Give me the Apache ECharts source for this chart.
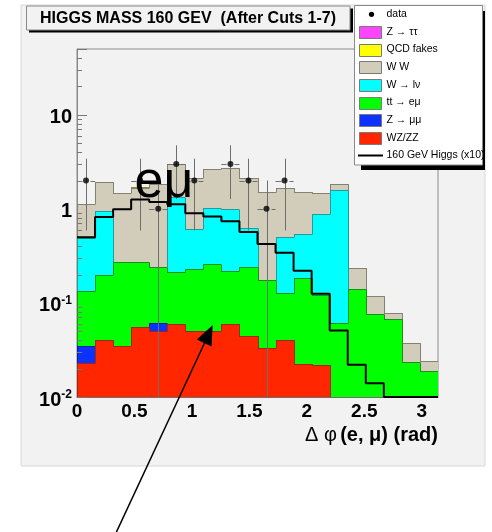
<!DOCTYPE html>
<html><head><meta charset="utf-8">
<script src="https://cdn.jsdelivr.net/npm/echarts@6/dist/echarts.min.js"></script>
<style>html,body{margin:0;padding:0;background:#fff}#c{width:492px;height:532px}</style>
</head><body><div id="c"></div>
<script>
// ---- data ----
const xRange = [0, Math.PI];
const nBins = 20;
const yRange = [0.01, 50];
const yMajorTicks = [0.01, 0.1, 1, 10];
const yMinorTicks = [0.02,0.03,0.04,0.05,0.06,0.07,0.08,0.09,0.2,0.3,0.4,0.5,0.6,0.7,0.8,0.9,2,3,4,5,6,7,8,9,20,30,40,50];
const xTickLabels = [0, 0.5, 1, 1.5, 2, 2.5, 3];

const wzzz    = [0.0229,0.0399,0.0352,0.0555,0.0498,0.0597,0.0500,0.0498,0.0597,0.0448,0.0331,0.0399,0.0223,0.0220,0,0,0,0,0,0];
const zmumu   = [0.0121,0,0,0,0.0114,0,0,0,0,0,0,0,0,0,0,0,0,0,0,0];
const ttbar   = [0.100,0.157,0.236,0.220,0.181,0.154,0.181,0.211,0.161,0.197,0.143,0.088,0.163,0.098,0.0612,0.142,0.0764,0.068,0.0238,0.0191];
const wlnu    = [0.359,0.754,0,0,0,1.13,0.38,0.77,0.77,0.38,0,0.37,0.35,0.77,1.53,0,0,0,0,0];
const ww      = [0.63,1.00,1.22,1.38,1.61,1.65,1.51,1.62,1.70,1.48,1.35,1.16,0.96,0.57,0.24,0.095,0.041,0.011,0.014,0.0053];
const qcd     = [0,0,0,0.06,0,0,0,0,0,0,0,0,0,0,0,0,0,0,0,0];
const ztautau = [0,0,0,0,0,0,0,0,0,0,0,0,0,0,0,0,0,0,0,0];
const higgsX10 = [0.50,0.82,0.99,1.26,1.18,1.12,0.90,0.83,0.74,0.567,0.422,0.342,0.22,0.125,0.051,0.022,0.014,0.01,0.01,0.01];
const dataCounts = [2,null,null,2,1,3,2,null,3,2,1,2,null,null,null,null,null,null,null,null];
const dataErrors = [1.41,null,null,1.41,1,1.73,1.41,null,1.73,1.41,1,1.41,null,null,null,null,null,null,null,null];

const layerNames  = ['WZ/ZZ','Z \u2192 \u03bc\u03bc','tt \u2192 e\u03bc','W \u2192 l\u03bd','W W','QCD fakes','Z \u2192 \u03c4\u03c4'];
const layerValues = [wzzz, zmumu, ttbar, wlnu, ww, qcd, ztautau];
const layerFill   = ['#ff2600','#0c32ff','#00ff00','#00ffff','#d2ccba','#ffff00','#ff44ff'];
const layerLine   = ['#a3250c','#0a209a','#1e8c1e','#2a9898','#858070','#8a8a1e','#a030a0'];

// ---- build ----
const binW = (xRange[1]-xRange[0])/nBins;
const edges = [];
for (let i=0;i<=nBins;i++) edges.push(xRange[0]+i*binW);
const yMin = yRange[0];
const clampY = v => Math.max(v, yMin);

// cumulative stacks
const cum = [];
let running = new Array(nBins).fill(0);
layerValues.forEach((vals) => {
  const lower = running.slice();
  running = running.map((r,i)=>r+vals[i]);
  cum.push({lower, upper: running.slice()});
});

function stackRender(fill, line) {
  return function(params, api) {
    const x0 = api.value(0), x1 = api.value(1);
    const lo = api.value(2), hi = api.value(3), prev = api.value(4);
    const a = api.coord([x0, lo]), b = api.coord([x1, hi]), p = api.coord([x0, prev]);
    const L = Math.round(a[0]), R = Math.round(b[0]);
    const T = Math.round(b[1]), B = Math.round(a[1]), P = Math.round(p[1]);
    const ch = [];
    if (B - T > 0) ch.push({type:'rect', shape:{x:L, y:T, width:R-L, height:B-T}, style:{fill}});
    ch.push({type:'line', shape:{x1:L, y1:T+0.5, x2:R, y2:T+0.5}, style:{stroke:line, lineWidth:1}});
    ch.push({type:'line', shape:{x1:L+0.5, y1:P+0.5, x2:L+0.5, y2:T+0.5}, style:{stroke:line, lineWidth:1}});
    return {type:'group', children: ch};
  };
}

const series = [];
for (let k = layerValues.length-1; k >= 0; k--) {
  const c = cum[k];
  const data = [];
  for (let i=0;i<nBins;i++) {
    const prevTop = i===0 ? yMin : clampY(c.upper[i-1]);
    data.push([edges[i], edges[i+1], clampY(c.lower[i]), clampY(c.upper[i]), prevTop]);
  }
  series.push({
    type:'custom', name: layerNames[k], clip:true, silent:true,
    encode:{x:[0,1], y:[3]}, data, renderItem: stackRender(layerFill[k], layerLine[k])
  });
}

// Higgs step line
const higgsData = [];
for (let i=0;i<nBins;i++) higgsData.push([edges[i], higgsX10[i]]);
higgsData.push([edges[nBins], higgsX10[nBins-1]]);
series.push({
  type:'line', name:'160 GeV Higgs (x10)', step:'end', data: higgsData, symbol:'none',
  clip:false, lineStyle:{color:'#000', width:2}, silent:true
});

// data error bars
const errData = [];
const ptData = [];
for (let i=0;i<nBins;i++) {
  if (dataCounts[i] == null) continue;
  const xc = (edges[i]+edges[i+1])/2;
  errData.push([xc, dataCounts[i], dataErrors[i], edges[i], edges[i+1]]);
  ptData.push([xc, dataCounts[i]]);
}
series.push({
  type:'custom', name:'data errors', clip:true, silent:true, encode:{x:0, y:1}, data: errData,
  renderItem(params, api) {
    const xc = api.value(0), n = api.value(1), e = api.value(2), x0 = api.value(3), x1 = api.value(4);
    const c = api.coord([xc, n]);
    const top = api.coord([xc, n+e]);
    const bot = api.coord([xc, clampY(n-e)]);
    const l = api.coord([x0, n]), r = api.coord([x1, n]);
    const X = Math.round(c[0])+0.5, Y = Math.round(c[1])+0.5;
    const st = {stroke:'#6e6e6e', lineWidth:1};
    return {type:'group', children:[
      {type:'line', shape:{x1:X, y1:top[1], x2:X, y2:bot[1]}, style:st},
      {type:'line', shape:{x1:l[0], y1:Y, x2:X-4, y2:Y}, style:st},
      {type:'line', shape:{x1:X+4, y1:Y, x2:r[0], y2:Y}, style:st}
    ]};
  }
});
series.push({
  type:'scatter', name:'data', data: ptData, symbol:'circle', symbolSize:6,
  itemStyle:{color:'#000'}, silent:true
});

// y minor ticks
series.push({
  type:'custom', name:'minor ticks', clip:false, silent:true, encode:{y:0},
  data: yMinorTicks.map(v=>[v]),
  renderItem(params, api) {
    const p = api.coord([xRange[0], api.value(0)]);
    const Y = Math.round(p[1])+0.5;
    return {type:'line', shape:{x1:p[0], y1:Y, x2:p[0]+5, y2:Y}, style:{stroke:'#777', lineWidth:1}};
  }
});

// ---- graphics: pad, title, legend, annotations ----
const FONT = '"Liberation Sans", Arial, Helvetica, sans-serif';
const graphic = [];
graphic.push({type:'rect', z:-10, shape:{x:21, y:5, width:464, height:461}, style:{fill:'#f2f2f2', stroke:'#d8d8d8', lineWidth:1}, silent:true});
// title box
graphic.push({type:'rect', z:50, shape:{x:29, y:8.5, width:324, height:24}, style:{fill:'#000'}, silent:true});
graphic.push({type:'rect', z:51, shape:{x:26.5, y:6, width:323.5, height:24}, style:{fill:'#f2f2f2', stroke:'#8a8a8a', lineWidth:1}, silent:true});
graphic.push({type:'text', z:52, x:40, y:18.5, style:{text:'HIGGS MASS 160 GEV  (After Cuts 1-7)', font:'bold 16px '+FONT, fill:'#000', verticalAlign:'middle', align:'left'}, silent:true});
// legend box
graphic.push({type:'rect', z:50, shape:{x:361, y:11, width:124, height:159}, style:{fill:'#000'}, silent:true});
graphic.push({type:'rect', z:51, shape:{x:354.5, y:5.5, width:128, height:159.5}, style:{fill:'#fff', stroke:'#8a8a8a', lineWidth:1}, silent:true});
const legendRows = [
  {label:'data', kind:'dot'},
  {label:layerNames[6], kind:'box', k:6},
  {label:layerNames[5], kind:'box', k:5},
  {label:layerNames[4], kind:'box', k:4},
  {label:layerNames[3], kind:'box', k:3},
  {label:layerNames[2], kind:'box', k:2},
  {label:layerNames[1], kind:'box', k:1},
  {label:layerNames[0], kind:'box', k:0},
  {label:'160 GeV Higgs (x10)', kind:'line'}
];
legendRows.forEach((r, idx) => {
  const cy = 14.3 + 17.65*idx;
  if (r.kind === 'dot') graphic.push({type:'circle', z:52, shape:{cx:371.5, cy, r:2.6}, style:{fill:'#000'}, silent:true});
  if (r.kind === 'box') graphic.push({type:'rect', z:52, shape:{x:359.5, y:Math.round(cy-6)+0.5, width:22, height:12}, style:{fill:layerFill[r.k], stroke:'#7a7a7a', lineWidth:1}, silent:true});
  if (r.kind === 'line') graphic.push({type:'line', z:52, shape:{x1:358, y1:cy, x2:383, y2:cy}, style:{stroke:'#000', lineWidth:2}, silent:true});
  graphic.push({type:'text', z:52, x:386.5, y:cy, style:{text:r.label, font:'10.5px '+FONT, fill:'#000', verticalAlign:'middle', align:'left'}, silent:true});
});
// e-mu annotation
graphic.push({type:'text', z:60, x:134.5, y:183, style:{text:'e\u03bc', font:'52px '+FONT, fill:'#000', verticalAlign:'middle', align:'left'}, silent:true});
// arrow
graphic.push({type:'line', z:60, shape:{x1:115.5, y1:534, x2:205, y2:342}, style:{stroke:'#000', lineWidth:1.5}, silent:true});
graphic.push({type:'polygon', z:60, shape:{points:[[212.7,325],[196.8,339.6],[211.5,346.6]]}, style:{fill:'#000'}, silent:true});

const chart = echarts.init(document.getElementById('c'), null, {renderer:'canvas', width:492, height:532});
chart.setOption({
  backgroundColor:'#ffffff',
  animation:false,
  grid:{left:77, top:49, right:54, bottom:135, show:true, borderColor:'#8a8a8a', borderWidth:1, backgroundColor:'transparent'},
  xAxis:{
    type:'value', min:xRange[0], max:xRange[1], interval:0.5,
    axisLine:{show:true, lineStyle:{color:'#6e6e6e', width:1}},
    axisTick:{show:false}, splitLine:{show:false},
    axisLabel:{
      margin:5, color:'#000', fontWeight:'bold', fontSize:19, fontFamily:FONT, showMaxLabel:false,
      formatter: v => xTickLabels.some(t=>Math.abs(t-v)<1e-9) ? String(v) : ''
    },
    name:'{g|\u0394 \u03c6} {b|(e, \u03bc) (rad)}', nameLocation:'end', nameGap:0,
    nameTextStyle:{align:'right', verticalAlign:'top', padding:[28,0,0,0],
      rich:{ g:{fontSize:20, fontFamily:FONT, color:'#000'}, b:{fontSize:20, fontWeight:'bold', fontFamily:FONT, color:'#000'} }}
  },
  yAxis:{
    type:'log', logBase:10, min:yRange[0], max:yRange[1],
    axisLine:{show:true, lineStyle:{color:'#8a8a8a'}},
    axisTick:{show:true, inside:true, length:10, lineStyle:{color:'#777'}},
    splitLine:{show:false},
    axisLabel:{
      margin:5, padding:[6,0,0,0],
      formatter: v => {
        const m = yMajorTicks.find(t => Math.abs(Math.log10(t) - Math.log10(v)) < 1e-6);
        if (m === undefined) return '';
        const e = Math.round(Math.log10(m));
        if (e === 0) return '{b|1}';
        if (e === 1) return '{b|10}';
        return '{b|10}{s|' + e + '}';
      },
      rich:{
        b:{fontSize:20, fontWeight:'bold', fontFamily:FONT, color:'#000', lineHeight:22},
        s:{fontSize:12, fontWeight:'bold', fontFamily:FONT, color:'#000', verticalAlign:'top'}
      }
    }
  },
  graphic,
  series
});
</script>
</body></html>
